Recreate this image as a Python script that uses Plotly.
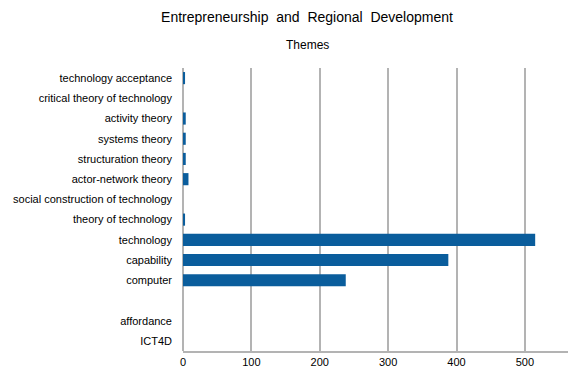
import plotly.graph_objects as go

categories = ["technology acceptance", "critical theory of technology", "activity theory",
              "systems theory", "structuration theory", "actor-network theory",
              "social construction of technology", "theory of technology", "technology",
              "capability", "computer", " ", "affordance", "ICT4D"]
values = [3, 0, 4, 4, 4, 8, 0, 3, 515, 388, 238, 0, 0, 0]
x_ticks = [0, 100, 200, 300, 400, 500]

fig = go.Figure()
fig.add_trace(go.Bar(
    y=categories, x=values, orientation="h",
    marker=dict(color="#0a5d9c", line=dict(color="#003e70", width=0)),
    hoverinfo="x+y",
))

fig.update_layout(
    width=568, height=379,
    margin=dict(l=183, r=0, t=68, b=28),
    paper_bgcolor="white", plot_bgcolor="white",
    font=dict(family="Liberation Sans, Arial, sans-serif", size=11, color="black"),
    title=dict(text="Entrepreneurship  and  Regional  Development", x=307 / 568, xanchor="center",
               y=1 - 17 / 379, yanchor="middle", font=dict(size=14, color="black")),
    bargap=0.4,
    showlegend=False,
    annotations=[dict(text="Themes", xref="paper", x=(307 - 183) / 385, xanchor="center",
                      yref="paper", y=1.0, yanchor="bottom", yshift=14,
                      showarrow=False, font=dict(size=12, color="black"))],
)
fig.update_xaxes(range=[0, 563], tickvals=x_ticks, showgrid=True, gridcolor="#b3b3b3", gridwidth=2,
                 zeroline=True, zerolinecolor="#b3b3b3", zerolinewidth=2,
                 showline=True, linecolor="#b3b3b3", linewidth=2, ticks="", fixedrange=True,
                 automargin=False)
fig.update_yaxes(autorange="reversed", categoryorder="array", categoryarray=categories,
                 showgrid=False, ticks="", ticklabelstandoff=10, showline=False, automargin=False,
                 fixedrange=True)

fig.write_html("out.html", config={"displayModeBar": False},
               post_script="document.body.style.margin='0px';")
